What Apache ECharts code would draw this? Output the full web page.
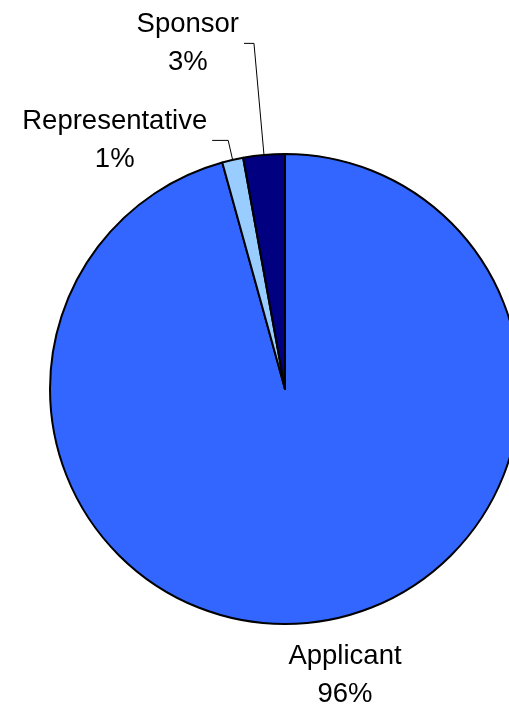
<!DOCTYPE html>
<html>
<head>
<meta charset="utf-8">
<script src="https://cdn.jsdelivr.net/npm/echarts@6/dist/echarts.min.js"></script>
<style>
  html, body { margin: 0; padding: 0; background: #ffffff; }
  #chart { width: 509px; height: 705px; }
</style>
</head>
<body>
<div id="chart"></div>
<script>
// Who filed the requests: share by party type
const categories = ['Applicant', 'Representative', 'Sponsor'];
const values = [95.7, 1.45, 2.85];
const colors = ['#3366FF', '#99CCFF', '#000080'];

// Leader line lengths per slice (radial part, horizontal part)
const leaderLengths = [[10, 0], [20, 16], [112, 10]];

const chart = echarts.init(document.getElementById('chart'), null, { renderer: 'canvas' });

const seriesData = categories.map((name, i) => ({
  name: name,
  value: values[i],
  itemStyle: { color: colors[i] },
  labelLine: {
    show: i !== 0,
    length: leaderLengths[i][0],
    length2: leaderLengths[i][1]
  }
}));

chart.setOption({
  animation: false,
  backgroundColor: '#ffffff',
  series: [{
    type: 'pie',
    center: [285, 389],
    radius: 235,
    startAngle: 90,
    clockwise: true,
    percentPrecision: 0,
    avoidLabelOverlap: false,
    itemStyle: { borderColor: '#000000', borderWidth: 2 },
    emphasis: { disabled: true },
    label: {
      show: true,
      position: 'outside',
      formatter: '{n|{b}}\n{n|{d}%}',
      distanceToLabelLine: 5,
      rich: {
        n: {
          fontFamily: 'Liberation Sans, Arial, sans-serif',
          fontSize: 27.5,
          lineHeight: 38,
          color: '#000000',
          align: 'center'
        }
      }
    },
    labelLine: {
      lineStyle: { color: '#000000', width: 1 }
    },
    labelLayout: function (params) {
      // The large slice gets its label centred just below the pie
      if (params.dataIndex === 0) {
        const r = params.rect;
        return {
          x: r.x + r.width / 2 + 60,
          y: r.y + r.height + 50,
          align: 'center',
          verticalAlign: 'middle'
        };
      }
      return {};
    },
    data: seriesData
  }]
});
</script>
</body>
</html>
